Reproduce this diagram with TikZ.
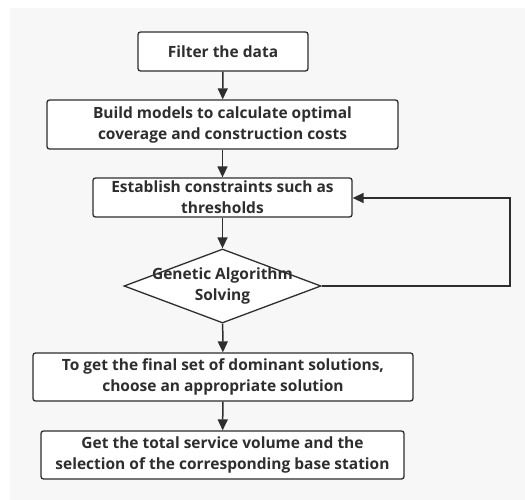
\documentclass[tikz,border=0pt]{standalone}
\usepackage{fontspec}
\setmainfont{Open Sans}
\usetikzlibrary{shapes.geometric,arrows.meta}
\definecolor{ink}{HTML}{2E2E2E}
\definecolor{bg}{HTML}{F7F7F7}
\begin{document}
\begin{tikzpicture}[x=1pt,y=-1pt,
  every node/.style={font=\fontsize{15.5}{21}\selectfont\bfseries, text=ink, align=center, inner sep=0pt},
  stepbox/.style={draw=ink, line width=1.3pt, fill=white, rounded corners=2.5pt},
  link/.style={draw=ink, line width=1.5pt, -{Triangle[length=11pt,width=10pt]}}]
\useasboundingbox (0,0) rectangle (525,500);
\fill[bg] (10,8) rectangle (525,500);
\node[stepbox, minimum width=170pt, minimum height=39pt] (b1) at (223,51.5) {Filter the data};
\node[stepbox, minimum width=351pt, minimum height=49pt] (b2) at (222.5,124.5) {Build models to calculate optimal\\coverage and construction costs};
\node[stepbox, minimum width=259pt, minimum height=39pt] (b3) at (222.5,197.5) {Establish constraints such as\\thresholds};
\node[diamond, draw=ink, line width=1.3pt, fill=white, minimum width=197pt, minimum height=74pt, aspect=2.66] (d) at (222.5,286) {};
\node at (222.5,286) {Genetic Algorithm\\Solving};
\node[stepbox, minimum width=380pt, minimum height=48pt] (b4) at (223,377) {To get the final set of dominant solutions,\\choose an appropriate solution};
\node[stepbox, minimum width=363pt, minimum height=48pt] (b5) at (222.5,455) {Get the total service volume and the\\selection of the corresponding base station};
\coordinate (c1) at (510,286);
\coordinate (c2) at (510,198);
\draw[link] (b1) -- (b2);
\draw[link] (b2) -- (b3);
\draw[link] (b3) -- (d);
\draw[link] (d) -- (b4);
\draw[link] (b4) -- (b5);
\draw[link] (d.east) -- (c1) -- (c2) -- (b3.east |- c2);
\end{tikzpicture}
\end{document}
